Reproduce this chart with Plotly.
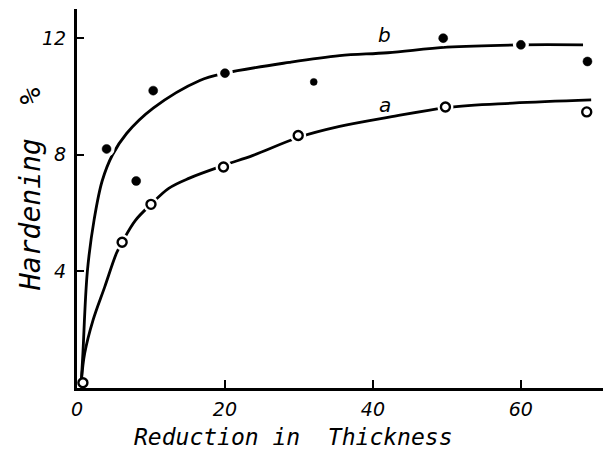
import plotly.graph_objects as go

# measured points
b_pts_x = [4, 8, 10.3, 20, 32, 49.5, 60, 69]
b_pts_y = [8.2, 7.1, 10.2, 10.8, 10.5, 12.0, 11.77, 11.2]
b_pts_size = [9, 9, 9, 9, 7, 9, 9, 9]

a_pts_x = [0.8, 6.1, 10.0, 19.8, 29.9, 49.8, 68.9]
a_pts_y = [0.18, 5.0, 6.3, 7.58, 8.66, 9.64, 9.47]

# hand-drawn fitted curves
b_curve_x = [0.6, 0.8, 1.4, 2.3, 3.4, 4.8, 6.7, 10.3, 16.6, 20, 28.7, 35.5, 42, 50, 60, 68.4]
b_curve_y = [0.3, 1.2, 4.0, 5.75, 7.1, 8.0, 8.73, 9.6, 10.55, 10.8, 11.17, 11.4, 11.5, 11.69, 11.77, 11.77]

a_curve_x = [0.6, 1.04, 2.17, 3.75, 5.33, 6.1, 7.9, 10, 12.4, 15.2, 20, 23.8, 30, 35.5, 42.2, 50, 58.9, 69.5]
a_curve_y = [0.27, 1.19, 2.33, 3.47, 4.62, 5.0, 5.75, 6.3, 6.85, 7.2, 7.65, 7.98, 8.6, 8.97, 9.29, 9.62, 9.77, 9.88]

x_ticks = [0, 20, 40, 60]
y_ticks = [4, 8, 12]

FONT = "DejaVu Sans"
MONO = "DejaVu Sans Mono"

fig = go.Figure()
fig.add_trace(go.Scatter(x=b_curve_x, y=b_curve_y, mode="lines",
                         line=dict(color="black", width=2.8, shape="spline", smoothing=1.0),
                         hoverinfo="skip"))
fig.add_trace(go.Scatter(x=a_curve_x, y=a_curve_y, mode="lines",
                         line=dict(color="black", width=2.8, shape="spline", smoothing=1.0),
                         hoverinfo="skip"))
# white halos to produce hand-drawn gaps around markers
fig.add_trace(go.Scatter(x=b_pts_x + a_pts_x[1:], y=b_pts_y + a_pts_y[1:], mode="markers",
                         marker=dict(color="white", size=16, line=dict(width=0)),
                         hoverinfo="skip"))
fig.add_trace(go.Scatter(x=b_pts_x, y=b_pts_y, mode="markers",
                         marker=dict(color="#000000", size=b_pts_size, opacity=1,
                                     line=dict(color="#000000", width=0.5))))
fig.add_trace(go.Scatter(x=a_pts_x, y=a_pts_y, mode="markers", cliponaxis=False,
                         marker=dict(color="white", size=9, line=dict(color="black", width=2.4))))

tickfont = dict(family=FONT, size=19, color="black", style="italic")
fig.update_layout(
    width=606, height=456,
    margin=dict(l=77, r=3, t=9, b=68),
    paper_bgcolor="white", plot_bgcolor="white",
    showlegend=False,
    xaxis=dict(range=[0, 71.1], tickvals=x_ticks, ticktext=[str(v) for v in x_ticks],
               ticks="inside", ticklen=8, tickwidth=2, tickcolor="black",
               showline=True, linecolor="black", linewidth=3,
               showgrid=False, zeroline=False, tickfont=tickfont, ticklabelstandoff=2),
    yaxis=dict(range=[0, 13.0], tickvals=y_ticks, ticktext=[str(v) for v in y_ticks],
               ticks="inside", ticklen=7, tickwidth=2, tickcolor="black",
               showline=True, linecolor="black", linewidth=3,
               showgrid=False, zeroline=False, tickfont=tickfont, ticklabelstandoff=4),
)

fig.add_annotation(x=0.411, y=-0.128, xref="paper", yref="paper", xanchor="center", yanchor="middle",
                   text="Reduction in  Thickness",
                   showarrow=False, font=dict(family=MONO, size=23, color="black", style="italic"))
fig.add_annotation(x=-0.0894, y=0.525, xref="paper", yref="paper", xanchor="center", yanchor="middle",
                   text="Hardening  %", textangle=-90,
                   showarrow=False, font=dict(family=MONO, size=28, color="black", style="italic"))
fig.add_annotation(x=41.6, y=12.1, xref="x", yref="y", text="b", showarrow=False,
                   font=dict(family=FONT, size=20, color="black", style="italic"))
fig.add_annotation(x=41.6, y=9.7, xref="x", yref="y", text="a", showarrow=False,
                   font=dict(family=FONT, size=20, color="black", style="italic"))

fig.write_html("out.html")
